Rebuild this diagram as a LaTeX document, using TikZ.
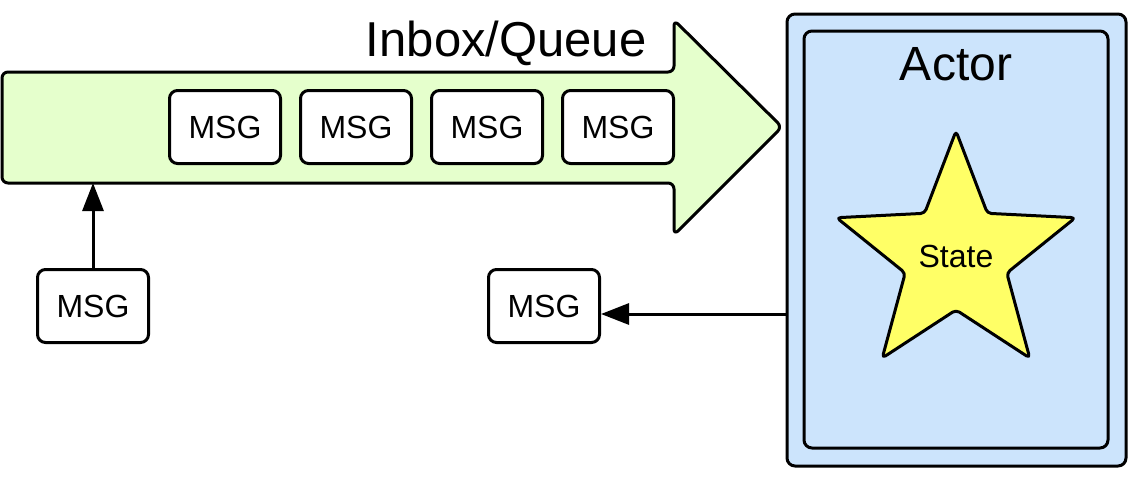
\documentclass[tikz,border=0pt]{standalone}
\usepackage{fontspec}
\setmainfont{Liberation Sans}
\usepackage{xcolor}
\usepackage{tikz}
\usetikzlibrary{calc, shapes.geometric, positioning, arrows.meta}

\definecolor{queuegreen}{RGB}{229,255,204}
\definecolor{actorblue}{RGB}{204,228,252}
\definecolor{stateyellow}{RGB}{255,255,102}

\begin{document}
\begin{tikzpicture}[x=1pt, y=-1pt, line width=3pt, line join=round,
    >={Triangle[length=28pt, width=21pt]},
    msgbox/.style={draw, fill=white, rounded corners=8pt, minimum width=111pt,
        minimum height=73pt, inner sep=0pt, font=\fontsize{32}{37}\selectfont},
    actorbox/.style={draw, fill=actorblue, rounded corners=8pt, inner sep=0pt}]
    \useasboundingbox (0,0) rectangle (1129,480);

    % Inbox/Queue arrow
    \draw[fill=queuegreen, rounded corners=6pt]
        (2,72) -- (674,72) -- (674,20) -- (782,127) -- (674,235)
        -- (674,183) -- (2,183) -- cycle;
    \coordinate (qbot) at (93,183);
    \node[anchor=base east, inner sep=0pt, font=\fontsize{49}{56}\selectfont]
        (qlabel) at (648,56) {Inbox/Queue};

    % messages in the queue
    \foreach \i in {1,...,4} {
        \node[msgbox] (q\i) at ({94+131*\i},127) {MSG};
    }

    % Actor
    \node[actorbox, minimum width=339pt, minimum height=452pt] (actor) at (956.5,240) {};
    \node[actorbox, minimum width=304pt, minimum height=417pt] (actorin) at (956,239.5) {};
    \node[anchor=base, inner sep=0pt, font=\fontsize{48}{55}\selectfont]
        (actorlbl) at (956,80) {Actor};
    \node[star, star points=5, star point ratio=2.35, minimum size=251pt,
        inner sep=0pt, draw, fill=stateyellow, rounded corners=4pt,
        font=\fontsize{32}{37}\selectfont] (state) at (956,256.5) {State};

    % incoming and outgoing messages
    \node[msgbox] (in) at (93,306) {MSG};
    \node[msgbox] (out) at (544,306) {MSG};
    \draw[->] (in.north) -- (in |- qbot);
    \coordinate (send) at ($(actor.west)+(0,74)$);
    \draw[->] (send) -- (send -| out.east);
\end{tikzpicture}
\end{document}
